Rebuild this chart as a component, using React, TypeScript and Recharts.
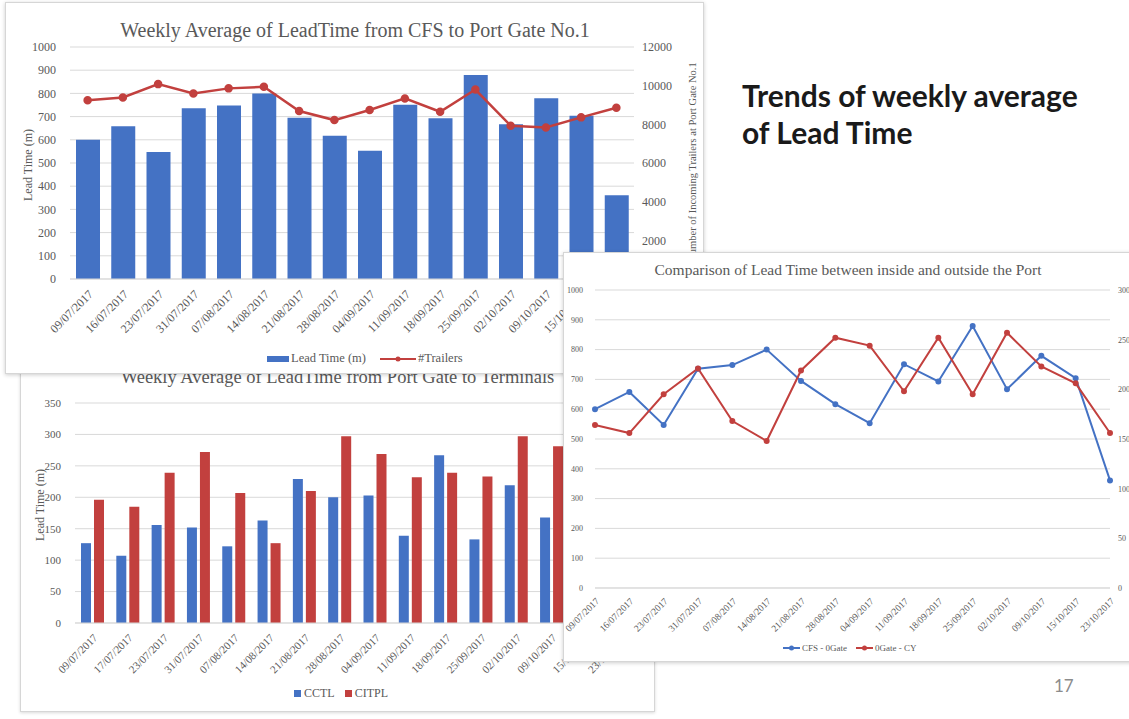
import React from 'react';
import {
  ComposedChart, BarChart, LineChart, Bar, Line, XAxis, YAxis, CartesianGrid
} from 'recharts';

// weeks shown on the CFS -> gate charts
const weeks = [
  '09/07/2017', '16/07/2017', '23/07/2017', '31/07/2017', '07/08/2017', '14/08/2017',
  '21/08/2017', '28/08/2017', '04/09/2017', '11/09/2017', '18/09/2017', '25/09/2017',
  '02/10/2017', '09/10/2017', '15/10/2017', '23/10/2017'
];
// weeks shown on the gate -> terminal chart
const terminalWeeks = [
  '09/07/2017', '17/07/2017', '23/07/2017', '31/07/2017', '07/08/2017', '14/08/2017',
  '21/08/2017', '28/08/2017', '04/09/2017', '11/09/2017', '18/09/2017', '25/09/2017',
  '02/10/2017', '09/10/2017', '15/10/2017', '23/10/2017'
];

const leadTimeCfsGate = [600, 658, 547, 736, 748, 800, 695, 617, 553, 751, 693, 879, 667, 779, 704, 361];
const trailers = [9250, 9390, 10080, 9600, 9860, 9940, 8690, 8220, 8740, 9340, 8650, 9800, 7930, 7840, 8360, 8860];
const cctl = [127, 107, 156, 152, 122, 163, 229, 200, 203, 139, 267, 133, 219, 168, 185, 120];
const citpl = [196, 185, 239, 272, 207, 127, 210, 297, 269, 232, 239, 233, 297, 281, 280, 190];
const gateToCy = [164, 156, 195, 221, 168, 148, 219, 252, 244, 198, 252, 195, 257, 223, 206, 156];

const leadTicks = [0, 100, 200, 300, 400, 500, 600, 700, 800, 900, 1000];
const trailerTicks = [0, 2000, 4000, 6000, 8000, 10000, 12000];
const terminalTicks = [0, 50, 100, 150, 200, 250, 300, 350];
const cyTicks = [0, 50, 100, 150, 200, 250, 300];

const BLUE = '#4472C4';
const RED = '#C2403E';
const GRID = '#d9d9d9';
const SERIF = '"Liberation Serif", "Times New Roman", serif';

const topData = weeks.map((w, i) => ({ week: w, lead: leadTimeCfsGate[i], trailers: trailers[i] }));
const termData = terminalWeeks.map((w, i) => ({ week: w, cctl: cctl[i], citpl: citpl[i] }));
const compData = weeks.map((w, i) => ({ week: w, cfs: leadTimeCfsGate[i], cy: gateToCy[i] }));

const abs = (left: number, top: number, extra: React.CSSProperties = {}): React.CSSProperties => ({
  position: 'absolute', left, top, ...extra
});

const VTitle = ({ x, y, size, text }: { x: number; y: number; size: number; text: string }) => (
  <div style={abs(x, y, {
    transform: 'translate(-50%, -50%) rotate(-90deg)', whiteSpace: 'nowrap',
    fontFamily: SERIF, fontSize: size, color: '#595959'
  })}>{text}</div>
);

const LineIcon = ({ color, w }: { color: string; w: number }) => (
  <svg width={w} height={8} style={{ marginRight: 2 }}>
    <line x1={0} y1={4} x2={w} y2={4} stroke={color} strokeWidth={2} />
    <circle cx={w / 2} cy={4} r={2.5} fill={color} />
  </svg>
);

export default function App() {
  const tick = (size: number) => ({ fontSize: size, fill: '#595959', fontFamily: SERIF });

  return (
    <div style={{ position: 'absolute', left: 0, top: 0, width: 1129, height: 719, overflow: 'hidden', background: '#fff' }}>
      {/* slide heading */}
      <div style={abs(742, 77, {
        fontFamily: 'Lato, "Open Sans", sans-serif', fontWeight: 700, fontSize: 30,
        lineHeight: '37px', color: '#1a1a1a', whiteSpace: 'nowrap'
      })}>
        Trends of weekly average<br />of Lead Time
      </div>
      <div style={abs(1054, 675, { fontFamily: 'Lato, sans-serif', fontSize: 17, color: '#8c8c8c' })}>17</div>

      {/* bottom-left: gate to terminals */}
      <div style={abs(20, 362, { width: 633, height: 348, border: '1px solid #d6d6d6', background: '#fff', boxShadow: '0 1px 3px rgba(0,0,0,0.15)' })} />
      <div style={abs(0, 367, { width: 675, textAlign: 'center', fontFamily: SERIF, fontSize: 18.5, color: '#595959' })}>
        Weekly Average of LeadTime from Port Gate to Terminals
      </div>
      <div style={abs(0, 360)}>
        <BarChart width={660} height={350} data={termData} margin={{ top: 43, right: 20, bottom: 27, left: 25 }}
          barSize={10} barGap={3}>
          <CartesianGrid vertical={false} stroke={GRID} />
          <XAxis dataKey="week" interval={0} angle={-45} textAnchor="end" height={60}
            tick={tick(11)} tickLine={false} axisLine={{ stroke: GRID }} tickMargin={4} />
          <YAxis domain={[0, 350]} ticks={terminalTicks} width={50} tick={tick(11)}
            tickLine={false} axisLine={false} tickMargin={8} />
          <Bar dataKey="cctl" name="CCTL" fill={BLUE} isAnimationActive={false} />
          <Bar dataKey="citpl" name="CITPL" fill={RED} isAnimationActive={false} />
        </BarChart>
      </div>
      <VTitle x={40} y={505} size={12} text="Lead Time (m)" />
      <div style={abs(294, 686, { display: 'flex', alignItems: 'center', fontFamily: SERIF, fontSize: 12, color: '#595959', whiteSpace: 'nowrap' })}>
        <span style={{ width: 7, height: 7, background: BLUE, marginRight: 3 }} />CCTL
        <span style={{ width: 7, height: 7, background: RED, margin: '0 3px 0 10px' }} />CITPL
      </div>

      {/* top-left: CFS to port gate */}
      <div style={abs(5, 2, { width: 697, height: 370, border: '1px solid #d6d6d6', background: '#fff', boxShadow: '0 1px 4px rgba(0,0,0,0.2)' })} />
      <div style={abs(0, 19, { width: 710, textAlign: 'center', fontFamily: SERIF, fontSize: 20, color: '#595959' })}>
        Weekly Average of LeadTime from CFS to Port Gate No.1
      </div>
      <div style={abs(0, 0)}>
        <ComposedChart width={705} height={372} data={topData} margin={{ top: 47, right: 21, bottom: 33, left: 20 }}>
          <CartesianGrid vertical={false} stroke={GRID} yAxisId="left" />
          <XAxis dataKey="week" interval={0} angle={-45} textAnchor="end" height={60}
            tick={tick(12)} tickLine={false} axisLine={{ stroke: GRID }} tickMargin={4} />
          <YAxis yAxisId="left" domain={[0, 1000]} ticks={leadTicks} width={50} tick={tick(12)}
            tickLine={false} axisLine={false} tickMargin={8} />
          <YAxis yAxisId="right" orientation="right" domain={[0, 12000]} ticks={trailerTicks} width={50}
            tick={tick(12)} tickLine={false} axisLine={false} tickMargin={2} />
          <Bar yAxisId="left" dataKey="lead" name="Lead Time (m)" fill={BLUE} barSize={24} isAnimationActive={false} />
          <Line yAxisId="right" dataKey="trailers" name="#Trailers" stroke={RED} strokeWidth={2.5}
            dot={{ r: 3, fill: RED, stroke: RED }} isAnimationActive={false} />
        </ComposedChart>
      </div>
      <VTitle x={28} y={165} size={12} text="Lead Time (m)" />
      <VTitle x={692} y={162} size={10.5} text="Number of Incoming Trailers at Port Gate No.1" />
      <div style={abs(267, 351, { display: 'flex', alignItems: 'center', fontFamily: SERIF, fontSize: 12.5, color: '#595959', whiteSpace: 'nowrap' })}>
        <span style={{ width: 22, height: 6, background: BLUE, marginRight: 2 }} />Lead Time (m)
        <span style={{ width: 14 }} />
        <LineIcon color={RED} w={36} />#Trailers
      </div>

      {/* right: comparison */}
      <div style={abs(563, 252, { width: 580, height: 408, border: '1px solid #d6d6d6', background: '#fff', boxShadow: '0 1px 4px rgba(0,0,0,0.2)' })} />
      <div style={abs(563, 261, { width: 570, textAlign: 'center', fontFamily: SERIF, fontSize: 15.5, color: '#595959' })}>
        Comparison of Lead Time between inside and outside the Port
      </div>
      <div style={abs(563, 252)}>
        <LineChart width={566} height={410} data={compData} margin={{ top: 38, right: 4, bottom: 34, left: 10 }}>
          <CartesianGrid vertical={false} stroke={GRID} yAxisId="left" />
          <XAxis dataKey="week" interval={0} angle={-45} textAnchor="end" height={40}
            tick={tick(9.5)} tickLine={false} axisLine={{ stroke: GRID }} tickMargin={3} />
          <YAxis yAxisId="left" domain={[0, 1000]} ticks={leadTicks} width={22} tick={tick(8)}
            tickLine={false} axisLine={false} tickMargin={6} />
          <YAxis yAxisId="right" orientation="right" domain={[0, 300]} ticks={cyTicks} width={15}
            tick={tick(8)} tickLine={false} axisLine={false} tickMargin={2} />
          <Line yAxisId="left" dataKey="cfs" name="CFS - 0Gate" stroke={BLUE} strokeWidth={2}
            dot={{ r: 2, fill: BLUE, stroke: BLUE }} isAnimationActive={false} />
          <Line yAxisId="right" dataKey="cy" name="0Gate - CY" stroke={RED} strokeWidth={2}
            dot={{ r: 2, fill: RED, stroke: RED }} isAnimationActive={false} />
        </LineChart>
      </div>
      <div style={abs(783, 643, { display: 'flex', alignItems: 'center', fontFamily: SERIF, fontSize: 9, color: '#595959', whiteSpace: 'nowrap' })}>
        <LineIcon color={BLUE} w={17} />CFS - 0Gate
        <span style={{ width: 9 }} />
        <LineIcon color={RED} w={17} />0Gate - CY
      </div>
    </div>
  );
}
